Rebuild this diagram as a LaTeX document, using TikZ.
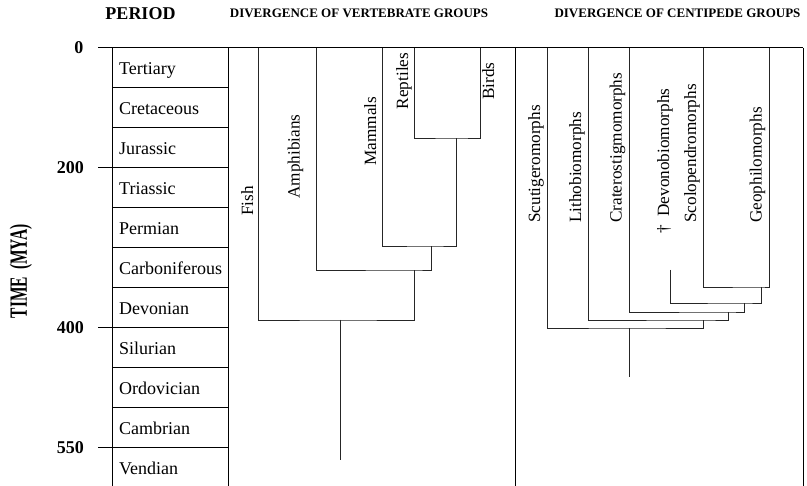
\documentclass[tikz,border=0pt]{standalone}
\usepackage{fontspec}
\setmainfont{Liberation Serif}
\begin{document}
\begin{tikzpicture}[x=1pt,y=-1pt,
  frame/.style={line width=1pt,black},
  branch/.style={line width=0.8pt,black!85},
  period/.style={anchor=base west,inner sep=0pt,font=\fontsize{18}{18}\selectfont},
  ticklabel/.style={anchor=base east,inner sep=0pt,font=\fontsize{18}{18}\selectfont\bfseries},
  taxon/.style={rotate=90,inner sep=0pt,font=\fontsize{17.2}{17.2}\selectfont},
  head/.style={inner sep=0pt,font=\fontsize{13}{13}\selectfont\bfseries}]
\fill[white] (0,0) rectangle (807,486);
\useasboundingbox (0,0) rectangle (807,486);

% column headings
\node[head,font=\fontsize{18}{18}\selectfont\bfseries] (hPeriod) at (140.5,14) {PERIOD};
\node[head] (hVert) at (359,13) {DIVERGENCE OF VERTEBRATE GROUPS};
\node[head] (hCent) at (677.5,13) {DIVERGENCE OF CENTIPEDE GROUPS};

% time axis title (letters drawn taller than they are wide)
\node[rotate=90,yscale=1.6,inner sep=0pt,font=\fontsize{15.5}{15.5}\selectfont\bfseries] (axis) at (21,271) {TIME\hspace{0.45em}(MYA)};

% frame: top rule, column borders
\draw[frame] (98,48) -- (803,48);
\foreach \x in {112.7,228.3,515.7,803} \draw[frame] (\x,48) -- (\x,486);
\foreach \y in {88,128,...,448} \draw[frame] (112.7,\y) -- (228.3,\y);
% ticks of the time scale
\foreach \y in {168,328,448} \draw[frame] (98,\y) -- (112.7,\y);
\node[ticklabel] (t0) at (83.5,54) {0};
\node[ticklabel] (t200) at (84,174) {200};
\node[ticklabel] (t400) at (84,334) {400};
\node[ticklabel] (t550) at (84,454) {550};

% geological periods
\foreach \i/\name in {0/Tertiary,1/Cretaceous,2/Jurassic,3/Triassic,4/Permian,5/Carboniferous,6/Devonian,7/Silurian,8/Ordovician,9/Cambrian,10/Vendian}
  \node[period] (per\i) at (119,{75+40*\i}) {\name};

% ---- vertebrate tree ----
\coordinate (vFish) at (258,48);
\coordinate (vAmph) at (316,48);
\coordinate (vMamm) at (382,48);
\coordinate (vRept) at (414,48);
\coordinate (vBird) at (480,48);
\coordinate (j1) at (456,138);
\coordinate (j2) at (431,246);
\coordinate (j3) at (414,270);
\coordinate (j4) at (340,320);
\coordinate (vRoot) at (340,460);
\draw[branch] (vRept) |- (j1) -| (vBird);
\draw[branch] (vMamm) |- (j2) -| (j1);
\draw[branch] (vAmph) |- (j3) -| (j2);
\draw[branch] (vFish) |- (j4) -| (j3);
\draw[branch] (j4) -- (vRoot);

\node[taxon,anchor=base] (lFish) at (253,201) {Fish};
\node[taxon,anchor=base] (lAmph) at (299.5,156.5) {Amphibians};
\node[taxon,anchor=base] (lMamm) at (376,131) {Mammals};
\node[taxon,anchor=base] (lRept) at (408,81) {Reptiles};
\node[taxon,anchor=base] (lBird) at (494,81) {Birds};

% ---- centipede tree ----
\coordinate (cScut) at (547,48);
\coordinate (cLith) at (588,48);
\coordinate (cCrat) at (629,48);
\coordinate (cDevo) at (670,270);
\coordinate (cScol) at (703,48);
\coordinate (cGeo) at (769,48);
\coordinate (k1) at (761,287);
\coordinate (k2) at (744,303);
\coordinate (k3) at (728,312);
\coordinate (k4) at (703,320);
\coordinate (k5) at (629,328);
\coordinate (cRoot) at (629,377);
\draw[branch] (cScol) |- (k1) -| (cGeo);
\draw[branch] (cDevo) |- (k2) -| (k1);
\draw[branch] (cCrat) |- (k3) -| (k2);
\draw[branch] (cLith) |- (k4) -| (k3);
\draw[branch] (cScut) |- (k5) -| (k4);
\draw[branch] (k5) -- (cRoot);

\node[taxon,anchor=base west] (lScut) at (540,223) {Scutigeromorphs};
\node[taxon,anchor=base west] (lLith) at (581,223) {Lithobiomorphs};
\node[taxon,anchor=base west] (lCrat) at (621.5,223) {Craterostigmomorphs};
\node[taxon,anchor=base east] (lDevo) at (669,88.3) {†\hspace{0.5em}Devonobiomorphs};
\node[taxon,anchor=base west] (lScol) at (696,223) {Scolopendromorphs};
\node[taxon,anchor=base west] (lGeo) at (761.5,223) {Geophilomorphs};
\end{tikzpicture}
\end{document}
